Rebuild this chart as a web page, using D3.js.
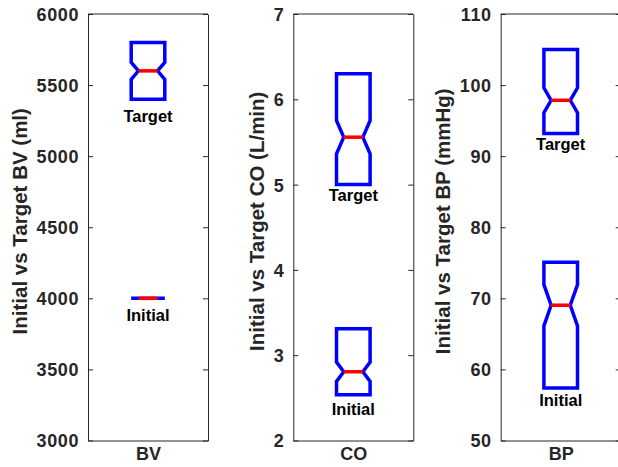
<!DOCTYPE html>
<html>
<head>
<meta charset="utf-8">
<script src="https://cdn.jsdelivr.net/npm/d3@7"></script>
<style>
    body { margin: 0; background: #fff; }
    svg { display: block; font-family: "Liberation Sans", Arial, sans-serif; }
    .axis text { font-size: 18px; font-weight: bold; fill: #262626; }
    .axis .ytick text { letter-spacing: 0.6px; }
    .axis path, .axis line { stroke: #262626; stroke-width: 1; }
    .ylabel { font-size: 20.5px; font-weight: bold; fill: #262626; }
    .boxlabel { font-size: 16.5px; font-weight: bold; fill: #000; }
</style>
</head>
<body>
<svg id="chart" width="618" height="467"></svg>
<script>
'use strict';

// Panels
const panels = ['BV', 'CO', 'BP'];
const yTitles = ['Initial vs Target BV (ml)', 'Initial vs Target CO (L/min)', 'Initial vs Target BP (mmHg)'];
const yDomains = [[3000, 6000], [2, 7], [50, 110]];
const yTicks = [
    [3000, 3500, 4000, 4500, 5000, 5500, 6000],
    [2, 3, 4, 5, 6, 7],
    [50, 60, 70, 80, 90, 100, 110]
];

// Groups inside each panel
const groups = ['Initial', 'Target'];

// Box values per panel: [Initial, Target]
const bvQ1 = [4000, 5400];
const bvMedian = [4000, 5600];
const bvQ3 = [4000, 5800];
const bvNotch = [0, 60];
const bvLabelY = [3883, 5285];

const coQ1 = [2.536, 5.0];
const coMedian = [2.806, 5.556];
const coQ3 = [3.31, 6.30];
const coNotch = [0.113, 0.195];
const coLabelY = [2.364, 4.876];

const bpQ1 = [57.4, 93.2];
const bpMedian = [69.03, 97.86];
const bpQ3 = [75.08, 105.0];
const bpNotch = [2.9, 1.75];
const bpLabelY = [55.7, 91.7];

const q1s = [bvQ1, coQ1, bpQ1];
const medians = [bvMedian, coMedian, bpMedian];
const q3s = [bvQ3, coQ3, bpQ3];
const notches = [bvNotch, coNotch, bpNotch];
const labelYs = [bvLabelY, coLabelY, bpLabelY];

(function () {

    const svg = d3.select('#chart');

    // Layout
    const lefts = [88, 293.3, 500.7];
    const pw = 120;
    const top = 14;
    const bottom = 440.5;
    const boxHalf = 0.14;
    const notchRatio = 0.57;

    panels.forEach((name, i) => {

        const g = svg.append('g');

        const x = d3.scaleLinear()
            .domain([0.5, 1.5])
            .range([lefts[i], lefts[i] + pw]);

        const y = d3.scaleLinear()
            .domain(yDomains[i])
            .range([bottom, top]);

        // Left axis
        const yAxis = g.append('g')
            .attr('class', 'axis')
            .attr('transform', `translate(${lefts[i]},0)`)
            .call(d3.axisLeft(y)
                .tickValues(yTicks[i])
                .tickFormat(d3.format('d'))
                .tickSizeInner(-5)
                .tickSizeOuter(0)
                .tickPadding(9));
        yAxis.selectAll('.tick').classed('ytick', true);
        yAxis.selectAll('text').attr('dy', '0.36em');

        // Right axis
        g.append('g')
            .attr('class', 'axis')
            .attr('transform', `translate(${lefts[i] + pw},0)`)
            .call(d3.axisRight(y)
                .tickValues(yTicks[i])
                .tickSizeInner(-5)
                .tickSizeOuter(0)
                .tickFormat(''));

        // Bottom axis
        g.append('g')
            .attr('class', 'axis')
            .attr('transform', `translate(0,${bottom})`)
            .call(d3.axisBottom(x)
                .tickValues([1])
                .tickSizeInner(0)
                .tickSizeOuter(0)
                .tickPadding(7)
                .tickFormat(() => name));

        // Top line
        g.append('line')
            .attr('x1', lefts[i]).attr('x2', lefts[i] + pw)
            .attr('y1', top).attr('y2', top)
            .attr('stroke', '#262626');

        // Y title
        const bb = yAxis.node().getBBox();
        g.append('text')
            .attr('class', 'ylabel')
            .attr('text-anchor', 'middle')
            .attr('transform', `translate(${lefts[i] + bb.x - 17},${(top + bottom) / 2 - 6}) rotate(-90)`)
            .attr('dy', '0.36em')
            .text(yTitles[i]);

        // Boxes
        groups.forEach((grp, j) => {
            const L = x(1 - boxHalf), R = x(1 + boxHalf);
            const Li = x(1 - boxHalf * notchRatio), Ri = x(1 + boxHalf * notchRatio);
            const med = medians[i][j], n = notches[i][j];
            const pts = [
                [L, y(q3s[i][j])], [R, y(q3s[i][j])],
                [R, y(med + n)], [Ri, y(med)], [R, y(med - n)],
                [R, y(q1s[i][j])], [L, y(q1s[i][j])],
                [L, y(med - n)], [Li, y(med)], [L, y(med + n)]
            ];
            g.append('path')
                .attr('d', d3.line()(pts) + 'Z')
                .attr('fill', 'none')
                .attr('stroke', '#0000ff')
                .attr('stroke-width', 3.5)
                .attr('stroke-linejoin', 'miter');

            g.append('line')
                .attr('x1', Li).attr('x2', Ri)
                .attr('y1', y(med)).attr('y2', y(med))
                .attr('stroke', '#ff0000')
                .attr('stroke-width', 3.5);

            g.append('text')
                .attr('class', 'boxlabel')
                .attr('text-anchor', 'middle')
                .attr('x', x(1))
                .attr('y', y(labelYs[i][j]))
                .attr('dy', '0.36em')
                .text(grp);
        });
    });

})();
</script>
</body>
</html>
